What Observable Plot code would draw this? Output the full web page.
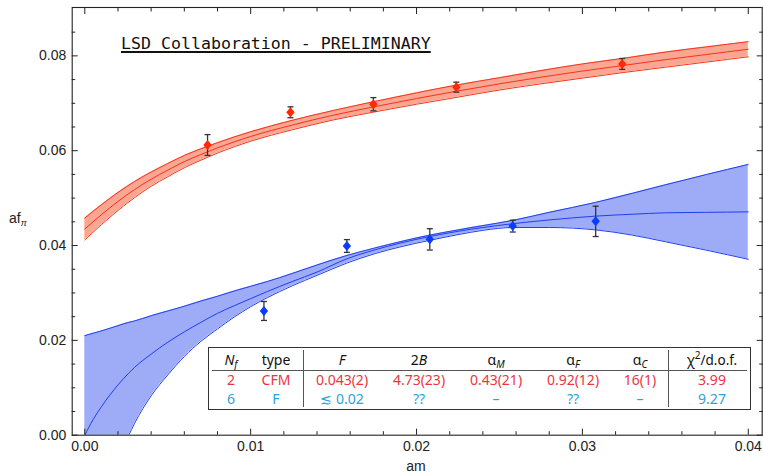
<!DOCTYPE html>
<html><head><meta charset="utf-8">
<script src="https://cdn.jsdelivr.net/npm/d3@7"></script>
<script src="https://cdn.jsdelivr.net/npm/@observablehq/plot@0.6"></script>
<style>
body{margin:0;background:#fff;}
#wrap{position:relative;width:763px;height:474px;font-family:"Liberation Sans",Arial,sans-serif;color:#222;}
#wrap svg{position:absolute;left:0;top:0;}
.title{position:absolute;left:121px;top:36px;font-family:"DejaVu Sans Mono",monospace;font-size:16.6px;line-height:1;white-space:nowrap;color:#111;text-decoration:underline;text-underline-offset:2px;text-decoration-thickness:1.6px;}
.ylab{position:absolute;left:9px;top:208px;font-size:14px;line-height:20px;}
.ylab sub{font-size:9px;vertical-align:-3px;font-style:italic;line-height:0;}
.xlab{position:absolute;left:396px;top:456px;width:40px;text-align:center;font-size:14px;line-height:20px;}
.tbl{position:absolute;left:208px;top:347px;width:541px;height:61px;border:1.6px solid #333;background:#fff;font-family:"Noto Sans","Open Sans",sans-serif;font-size:14px;}
.cell{position:absolute;width:84px;margin-left:-42px;text-align:center;height:20px;line-height:20px;white-space:nowrap;overflow:visible;}
.cell sub{font-size:10px;vertical-align:-3px;line-height:0;}
.cell sup{font-size:10px;vertical-align:6px;line-height:0;}
.hline{position:absolute;left:3px;right:3px;top:21.5px;border-top:1px solid #555;}
.vline{position:absolute;top:2px;bottom:2px;border-left:1.2px solid #555;}
</style></head><body><div id="wrap"></div>
<script>
// --- data ---
// Nf = 2 (red) lattice points
const redAm  = [0.0074, 0.0124, 0.0174, 0.0224, 0.0324];
const redF   = [0.0612, 0.0681, 0.0698, 0.0734, 0.0783];
const redErr = [0.0022, 0.00115, 0.0014, 0.00105, 0.00115];
// Nf = 6 (blue) lattice points
const blueAm  = [0.0108, 0.0158, 0.0208, 0.0258, 0.0308];
const blueF   = [0.0262, 0.0399, 0.0413, 0.0441, 0.0451];
const blueErr = [0.0020, 0.00135, 0.00225, 0.00125, 0.0032];

// Nf = 2 fit band (CFM)
const redCurveX = [0, 0.001, 0.002, 0.003, 0.004, 0.005, 0.006, 0.007, 0.008, 0.010, 0.0125, 0.015, 0.0175, 0.020, 0.0225, 0.025, 0.0275, 0.030, 0.0325, 0.035, 0.0375, 0.040];
const redMid = [0.0435, 0.0465, 0.0493, 0.0518, 0.0540, 0.0559, 0.0577, 0.0592, 0.0606, 0.0630, 0.0654, 0.0675, 0.0693, 0.0710, 0.0726, 0.0741, 0.0755, 0.0768, 0.0780, 0.0792, 0.0803, 0.0814];
const redHi  = [0.0458, 0.0486, 0.0512, 0.0535, 0.0555, 0.0573, 0.0590, 0.0604, 0.0617, 0.0640, 0.0664, 0.0685, 0.0704, 0.0722, 0.0739, 0.0754, 0.0769, 0.0783, 0.0795, 0.0808, 0.0819, 0.0830];
const redLo  = [0.0412, 0.0444, 0.0474, 0.0501, 0.0525, 0.0545, 0.0564, 0.0580, 0.0595, 0.0620, 0.0644, 0.0665, 0.0682, 0.0698, 0.0713, 0.0728, 0.0741, 0.0753, 0.0765, 0.0776, 0.0787, 0.0798];

// Nf = 6 fit band (F)
const blueCurveX = [0, 0.0005, 0.001, 0.002, 0.00265, 0.003, 0.004, 0.005, 0.006, 0.007, 0.008, 0.009, 0.010, 0.011, 0.0125, 0.014, 0.0158, 0.0175, 0.019, 0.0208, 0.0225, 0.024, 0.0258, 0.028, 0.0308, 0.033, 0.035, 0.0375, 0.040];
const blueMid = [0, 0.0033, 0.0060, 0.0106, 0.0131, 0.0143, 0.0171, 0.0196, 0.0218, 0.0238, 0.0257, 0.0273, 0.0288, 0.0303, 0.0324, 0.0344, 0.0372, 0.0391, 0.0405, 0.0419, 0.0430, 0.0438, 0.0446, 0.0454, 0.0462, 0.0466, 0.0469, 0.0470, 0.0471];
const blueHi  = [0.0210, 0.0215, 0.0220, 0.0231, 0.0238, 0.0241, 0.0252, 0.0262, 0.0272, 0.0283, 0.0293, 0.0304, 0.0314, 0.0324, 0.0341, 0.0359, 0.0379, 0.0395, 0.0408, 0.0422, 0.0433, 0.0442, 0.0453, 0.0470, 0.0491, 0.0510, 0.0528, 0.0550, 0.0571];
const blueLo  = [-0.0160, -0.0122, -0.0085, -0.0030, 0.0, 0.0025, 0.0083, 0.0127, 0.0166, 0.0198, 0.0224, 0.0249, 0.0271, 0.0290, 0.0315, 0.0337, 0.0363, 0.0383, 0.0397, 0.0411, 0.0423, 0.0432, 0.0438, 0.0438, 0.0433, 0.0422, 0.0408, 0.0390, 0.0371];

// ticks
const xMajor = [0, 0.01, 0.02, 0.03, 0.04];
const xMinor = [0.002, 0.004, 0.006, 0.008, 0.012, 0.014, 0.016, 0.018, 0.022, 0.024, 0.026, 0.028, 0.032, 0.034, 0.036, 0.038];
const yMajor = [0, 0.02, 0.04, 0.06, 0.08];
const yMinor = [0.005, 0.01, 0.015, 0.025, 0.03, 0.035, 0.045, 0.05, 0.055, 0.065, 0.07, 0.075, 0.085];

// table text
const tableHeader = ['<i>N</i><sub><i>f</i></sub>', 'type', '<i>F</i>', '2<i>B</i>', 'α<sub><i>M</i></sub>', 'α<sub><i>F</i></sub>', 'α<sub><i>C</i></sub>', 'χ<sup>2</sup>/d.o.f.'];
const tableRow2  = ['2', 'CFM', '0.043(2)', '4.73(23)', '0.43(21)', '0.92(12)', '16(1)', '3.99'];
const tableRow6  = ['6', 'F', '≲ 0.02', '??', '–', '??', '–', '9.27'];

// --- build ---
const redCurve = redCurveX.map((x, i) => ({x, mid: redMid[i], hi: redHi[i], lo: redLo[i]}));
const blueCurve = blueCurveX.map((x, i) => ({x, mid: blueMid[i], hi: blueHi[i], lo: blueLo[i]}));
const redPts = redAm.map((x, i) => ({x, y: redF[i], lo: redF[i] - redErr[i], hi: redF[i] + redErr[i]}));
const bluePts = blueAm.map((x, i) => ({x, y: blueF[i], lo: blueF[i] - blueErr[i], hi: blueF[i] + blueErr[i]}));

const cap = {draw(ctx) { ctx.moveTo(-3, 0); ctx.lineTo(3, 0); }};
const diamond = {draw(ctx) { ctx.moveTo(0, -5); ctx.lineTo(4.2, 0); ctx.lineTo(0, 5); ctx.lineTo(-4.2, 0); ctx.closePath(); }};

const redFill = "#f9a693", redLine = "#f8321a", redDot = "#ff2a00";
const blueFill = "#9eabf7", blueLine = "#1f3ff0", blueDot = "#0a3cff";
const errCol = "#333";
const curve = "monotone-x";

function errMarks(pts) {
  return [
    Plot.ruleX(pts, {x: "x", y1: "lo", y2: "hi", stroke: errCol, strokeWidth: 1.3}),
    Plot.dot(pts, {x: "x", y: "lo", symbol: cap, stroke: errCol, strokeWidth: 1.3, r: 3}),
    Plot.dot(pts, {x: "x", y: "hi", symbol: cap, stroke: errCol, strokeWidth: 1.3, r: 3})
  ];
}

const fmt = d3.format(".2f");
const blank = () => "";

const chart = Plot.plot({
  width: 763, height: 474,
  marginLeft: 71.7, marginRight: 1.3, marginTop: 7, marginBottom: 39.3,
  x: {domain: [-0.00076, 0.04084]},
  y: {domain: [0, 0.0902]},
  style: {fontFamily: "Liberation Sans, Arial, sans-serif", fontSize: "14px", color: "#222", background: "transparent"},
  marks: [
    Plot.areaY(blueCurve, {x: "x", y1: "lo", y2: "hi", fill: blueFill, curve, clip: true}),
    Plot.lineY(blueCurve, {x: "x", y: "hi", stroke: blueLine, strokeWidth: 1, curve, clip: true}),
    Plot.lineY(blueCurve, {x: "x", y: "mid", stroke: blueLine, strokeWidth: 1, curve, clip: true}),
    Plot.lineY(blueCurve, {x: "x", y: "lo", stroke: blueLine, strokeWidth: 1, curve, clip: true}),
    Plot.areaY(redCurve, {x: "x", y1: "lo", y2: "hi", fill: redFill, curve, clip: true}),
    Plot.lineY(redCurve, {x: "x", y: "hi", stroke: redLine, strokeWidth: 1, curve, clip: true}),
    Plot.lineY(redCurve, {x: "x", y: "mid", stroke: redLine, strokeWidth: 1, curve, clip: true}),
    Plot.lineY(redCurve, {x: "x", y: "lo", stroke: redLine, strokeWidth: 1, curve, clip: true}),
    ...errMarks(redPts),
    ...errMarks(bluePts),
    Plot.dot(redPts, {x: "x", y: "y", symbol: diamond, fill: redDot, r: 4}),
    Plot.dot(bluePts, {x: "x", y: "y", symbol: diamond, fill: blueDot, r: 4}),
    Plot.frame({stroke: "#222", strokeWidth: 1.1}),
    Plot.axisX(xMajor, {anchor: "bottom", tickSize: -6, tickPadding: 12, tickFormat: fmt, stroke: "#222", label: null}),
    Plot.axisX(xMinor, {anchor: "bottom", tickSize: -3.5, tickFormat: blank, stroke: "#222", label: null}),
    Plot.axisX(xMajor, {anchor: "top", tickSize: -6, tickFormat: blank, stroke: "#222", label: null}),
    Plot.axisX(xMinor, {anchor: "top", tickSize: -3.5, tickFormat: blank, stroke: "#222", label: null}),
    Plot.axisY(yMajor, {anchor: "left", tickSize: -6, tickPadding: 12, tickFormat: fmt, stroke: "#222", label: null}),
    Plot.axisY(yMinor, {anchor: "left", tickSize: -3.5, tickFormat: blank, stroke: "#222", label: null}),
    Plot.axisY(yMajor, {anchor: "right", tickSize: -6, tickFormat: blank, stroke: "#222", label: null}),
    Plot.axisY(yMinor, {anchor: "right", tickSize: -3.5, tickFormat: blank, stroke: "#222", label: null})
  ]
});

const wrap = document.getElementById("wrap");
wrap.appendChild(chart);

const t = document.createElement("div"); t.className = "title"; t.textContent = "LSD Collaboration - PRELIMINARY"; wrap.appendChild(t);
const yl = document.createElement("div"); yl.className = "ylab"; yl.innerHTML = "af<sub>π</sub>"; wrap.appendChild(yl);
const xl = document.createElement("div"); xl.className = "xlab"; xl.textContent = "am"; wrap.appendChild(xl);

// table
const tbl = document.createElement("div"); tbl.className = "tbl"; wrap.appendChild(tbl);
const colX = [22, 67, 133, 210, 287, 364, 431, 503]; // centers relative to table box
const rowY = [2, 22, 41];
const rows = [[tableHeader, "#111"], [tableRow2, "#ec3540"], [tableRow6, "#2ba3db"]];
rows.forEach(([cells, col], r) => {
  cells.forEach((txt, c) => {
    const d = document.createElement("div"); d.className = "cell";
    d.style.left = colX[c] + "px"; d.style.top = rowY[r] + "px"; d.style.color = col;
    if (r === 0 && c === 7) d.style.fontSize = "13.5px";
    d.innerHTML = txt; tbl.appendChild(d);
  });
});
const hl = document.createElement("div"); hl.className = "hline"; tbl.appendChild(hl);
[94, 459].forEach(x => { const v = document.createElement("div"); v.className = "vline"; v.style.left = x + "px"; tbl.appendChild(v); });
</script>
</body></html>
